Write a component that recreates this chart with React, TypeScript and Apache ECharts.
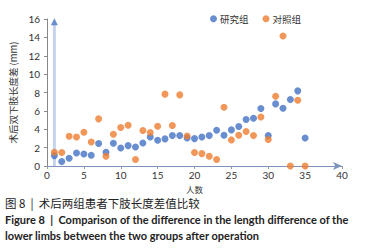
import React, { useEffect, useRef } from "react";
import * as echarts from "echarts";

const persons = [1, 2, 3, 4, 5, 6, 7, 8, 9, 10, 11, 12, 13, 14, 15, 16, 17, 18, 19, 20, 21, 22, 23, 24, 25, 26, 27, 28, 29, 30, 31, 32, 33, 34, 35];
const studyGroup = [1.13, 0.48, 0.84, 1.42, 1.31, 1.17, 2.44, 1.49, 2.47, 1.96, 2.22, 2.07, 2.51, 3.16, 2.8, 2.95, 3.31, 3.31, 3.05, 2.98, 3.16, 3.31, 3.89, 3.35, 3.93, 4.29, 5.06, 5.2, 6.26, 3.31, 6.76, 6.29, 7.24, 8.18, 3.05];
const controlGroup = [1.49, 1.46, 3.24, 3.16, 3.67, 2.62, 5.13, 1.06, 3.46, 4.19, 4.44, 0.7, 3.86, 3.64, 4.33, 7.82, 4.41, 7.74, 3.27, 1.46, 1.35, 1.06, 0.7, 6.4, 2.84, 3.35, 3.75, 3.31, 5.34, 2.88, 7.6, 14.14, 0, 7.16, 0];
const seriesNames = ["研究组", "对照组"];
const xAxisName = "人数";
const yAxisName = "术后双下肢长度差 (mm)";
const captionCn = "图 8  |  术后两组患者下肢长度差值比较";
const captionEn1 = "Figure 8  |  Comparison of the difference in the length difference of the";
const captionEn2 = "lower limbs between the two groups after operation";
// decorative vertical guide at x = 1 (from y=0 up to an arrow)
const guideX = 1;
const guideLine = [0, 15.4];
const guideArrowY = 15.69;

export default function App() {
  const ref = useRef<HTMLDivElement>(null);
  useEffect(() => {
    if (!ref.current) return;
    const chart = echarts.init(ref.current, null, { renderer: "svg" });
    const font = 'Lato, "Noto Sans CJK SC", sans-serif';
    chart.setOption({
      animation: false,
      textStyle: { fontFamily: font },
      grid: { left: 38, right: 24, top: 19, bottom: 84, containLabel: false },
      legend: {
        data: seriesNames.map((n) => ({ name: n, icon: "circle" })),
        left: 210,
        top: 14,
        itemWidth: 7,
        itemHeight: 7,
        itemGap: 14,
        padding: 0,
        textStyle: { fontSize: 9.5, color: "#333", fontFamily: '"Noto Sans CJK SC", sans-serif', padding: [0, 0, 0, -2] },
      },
      xAxis: {
        type: "value",
        min: 0,
        max: 40,
        interval: 5,
        name: xAxisName,
        nameLocation: "middle",
        nameGap: 8,
        nameTextStyle: { fontSize: 8.5, color: "#333", fontFamily: '"Noto Sans CJK SC", sans-serif', lineHeight: 9 },
        splitLine: { show: false },
        axisLine: {
          show: true,
          lineStyle: { color: "#7D93BD", width: 1.2 },
          symbol: ["none", "arrow"],
          symbolSize: [6, 9],
        },
        axisTick: { show: true, length: 3, lineStyle: { color: "#999" } },
        axisLabel: { fontSize: 10, color: "#333", margin: 4, lineHeight: 10 },
      },
      yAxis: {
        type: "value",
        min: 0,
        max: 16,
        interval: 2,
        name: yAxisName,
        nameLocation: "middle",
        nameRotate: 90,
        nameGap: 22,
        nameTextStyle: { fontSize: 9.5, color: "#333", fontFamily: '"Noto Sans CJK SC", sans-serif' },
        splitLine: { show: false },
        axisLine: { show: true, lineStyle: { color: "#888" } },
        axisTick: { show: true, length: 3, lineStyle: { color: "#888" } },
        axisLabel: { fontSize: 10, color: "#333", margin: 7 },
      },
      series: [
        {
          type: "line",
          silent: true,
          symbol: "none",
          data: guideLine.map((y) => [guideX, y]),
          lineStyle: { color: "#C6D3EC", width: 3 },
          z: 1,
        },
        {
          type: "scatter",
          silent: true,
          symbol: "triangle",
          symbolSize: [7, 7],
          data: [[guideX, guideArrowY]],
          itemStyle: { color: "#4472C4" },
          z: 1,
        },
        {
          name: seriesNames[0],
          type: "scatter",
          symbolSize: 7,
          data: persons.map((p, i) => [p, studyGroup[i]]),
          itemStyle: { color: "#4472C4" },
          z: 2,
        },
        {
          name: seriesNames[1],
          type: "scatter",
          symbolSize: 7,
          data: persons.map((p, i) => [p, controlGroup[i]]),
          itemStyle: { color: "#ED7D31" },
          z: 3,
        },
      ],
      graphic: [
        {
          type: "text",
          left: 5,
          top: 197.5,
          style: { text: captionCn, fontSize: 11.5, fill: "#222", fontFamily: '"Noto Sans CJK SC", sans-serif' },
        },
        {
          type: "text",
          left: 5,
          top: 213.5,
          style: { text: captionEn1, fontSize: 11, fontWeight: "bold", fill: "#222", fontFamily: "Lato, sans-serif" },
        },
        {
          type: "text",
          left: 5,
          top: 230,
          style: { text: captionEn2, fontSize: 11, fontWeight: "bold", fill: "#222", fontFamily: "Lato, sans-serif" },
        },
      ],
    });
    return () => chart.dispose();
  }, []);
  return <div ref={ref} style={{ width: 366, height: 250, position: "absolute", left: 0, top: 0 }} />;
}
